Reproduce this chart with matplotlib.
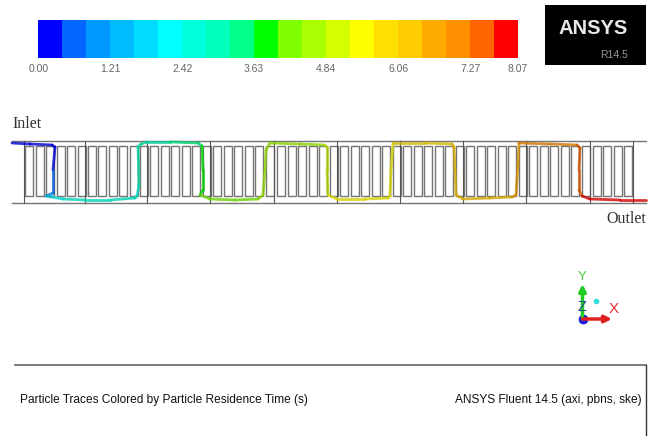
import matplotlib
matplotlib.use("Agg")
import matplotlib.pyplot as plt
import numpy as np
from matplotlib.collections import LineCollection
from matplotlib.colors import BoundaryNorm, ListedColormap, to_rgb

# colour bar
band_colors = ["#0000ff", "#0066ff", "#0099ff", "#00bbff", "#00ddff",
               "#00ffff", "#00ffdd", "#00ffbb", "#00ff88", "#00ff00",
               "#7fff00", "#aaff00", "#d4ff00", "#ffff00", "#ffe000",
               "#ffcc00", "#ffaa00", "#ff9000", "#ff6600", "#ff0000"]
tick_values = [0.00, 1.21, 2.42, 3.63, 4.84, 6.06, 7.27, 8.07]
tick_labels = ["0.00", "1.21", "2.42", "3.63", "4.84", "6.06", "7.27", "8.07"]
t_max = 8.07

# channel geometry, in picture pixels
section_x = [24, 85, 147, 210, 274, 337, 400, 463, 526, 590, 633]
baffle_x = [25, 35.5, 46, 56.5, 67, 77.5,
            87.5, 98, 108.5, 119, 129.5, 140,
            150, 160.5, 171, 181.5, 192, 202.5,
            213, 223.5, 234, 244.5, 255, 265.5,
            277, 287.5, 298, 308.5, 319, 329.5,
            340, 350.5, 361, 371.5, 382, 392.5,
            403, 413.5, 424, 434.5, 445, 455.5,
            466, 476.5, 487, 497.5, 508, 518.5,
            529, 539.5, 550, 560.5, 571, 581.5,
            592.5, 603, 613.5, 624]

# particle trace
trace_x = [12, 30, 52, 55, 53, 53, 46, 52, 63, 85, 110, 135, 137, 139, 138, 141, 147,
           170, 198, 202, 203, 203, 200, 210, 235, 258, 263, 265, 266, 270,
           300, 324, 327, 327, 328, 337, 365, 388, 390, 391, 393,
           425, 452, 454, 455, 456, 463, 490, 512, 516, 518, 519,
           550, 577, 580, 579, 579, 582, 590, 620, 646]
trace_y = [143, 144, 145, 147, 170, 193, 196, 197, 199, 200, 200, 198, 196, 185, 147, 144, 142,
           142, 143, 146, 170, 190, 195, 199, 200, 199, 195, 170, 150, 143,
           144, 145, 147, 170, 195, 199, 199, 198, 196, 170, 143,
           143, 144, 147, 170, 195, 199, 198, 197, 195, 165, 143,
           144, 145, 148, 170, 190, 196, 199, 200, 200]
trace_t = [0.1, 0.1, 0.2, 0.2, 0.5, 1.0, 1.9, 2.4, 2.6, 2.6, 2.7, 2.8, 2.8, 2.9, 3.0, 3.1, 3.2,
           3.4, 3.6, 3.7, 3.8, 4.0, 4.1, 4.2, 4.4, 4.5, 4.5, 4.6, 4.7, 4.7,
           4.8, 5.0, 5.1, 5.2, 5.3, 5.3, 5.4, 5.5, 5.5, 5.6, 5.7,
           5.9, 6.1, 6.1, 6.2, 6.3, 6.3, 6.4, 6.5, 6.5, 6.7, 6.9,
           7.1, 7.3, 7.4, 7.5, 7.6, 8.0, 8.05, 8.05, 8.05]

line_grey = "#757575"

fig = plt.figure(figsize=(6.54, 4.36), dpi=100)
ax = fig.add_axes([0, 0, 1, 1])
ax.set_xlim(0, 654)
ax.set_ylim(436, 0)
ax.axis("off")

# channel walls
ax.plot([12, 646], [141, 141], color=line_grey, lw=1)
ax.plot([12, 646], [203, 203], color=line_grey, lw=1)
for x in section_x:
    ax.plot([x, x], [141, 203], color="#555555", lw=0.8)
for x in baffle_x:
    ax.add_patch(plt.Rectangle((x, 146), 8, 50, fill=False, ec=line_grey, lw=1))

# trace coloured by residence time, darker than the bar as in the picture
cmap = ListedColormap(band_colors)
trace_cmap = ListedColormap([tuple(0.82 * c for c in to_rgb(b)) for b in band_colors])
norm = BoundaryNorm(np.linspace(0, t_max, len(band_colors) + 1), cmap.N)
pts = np.column_stack([trace_x, trace_y])
segs = np.stack([pts[:-1], pts[1:]], axis=1)
lc = LineCollection(segs, cmap=trace_cmap, norm=norm, linewidths=2, alpha=0.8, capstyle="round")
lc.set_array(np.array(trace_t[:-1]))
ax.add_collection(lc)

serif = "Liberation Serif"
sans = "Liberation Sans"
ax.text(12, 124, "Inlet", family=serif, fontsize=11.5, color="#333333", va="center")
ax.text(646, 219, "Outlet", family=serif, fontsize=11.5, color="#333333", va="center", ha="right")

# colour bar drawn on its own axes
cax = fig.add_axes([38.3 / 654, 1 - 58 / 436, 479.7 / 654, 38 / 436])
cax.pcolormesh(np.linspace(0, t_max, len(band_colors) + 1), [0, 1],
               (np.arange(len(band_colors)) + 0.5).reshape(1, -1) * t_max / len(band_colors),
               cmap=cmap, norm=norm)
cax.set_yticks([])
cax.set_xticks(tick_values)
cax.set_xticklabels(tick_labels, family=sans, fontsize=7.5, color="#666666")
cax.tick_params(axis="x", length=0, pad=4)
for s in cax.spines.values():
    s.set_visible(False)

# logo
ax.add_patch(plt.Rectangle((545, 5), 101, 60, fc="black", ec="none"))
ax.text(593, 28, "ANSYS", family=sans, weight="bold", fontsize=14.5,
        color="#e8e8e8", ha="center", va="center")
ax.text(628, 55, "R14.5", family=sans, fontsize=7.5, color="#9a9a9a",
        ha="right", va="center")

# axis triad
ax.annotate("", xy=(582.5, 284), xytext=(582.5, 319),
            arrowprops=dict(arrowstyle="-|>", color="#22cc22", lw=2.5, shrinkA=0, shrinkB=0))
ax.annotate("", xy=(612, 319), xytext=(582.5, 319),
            arrowprops=dict(arrowstyle="-|>", color="#e02020", lw=2.5, shrinkA=0, shrinkB=0))
ax.text(582.5, 277, "Y", family=sans, fontsize=9.5, color="#44cc44", ha="center", va="center")
ax.text(582.5, 307, "Z", family=sans, fontsize=10.5, color="#1a4a8a", ha="center", va="center")
ax.text(614, 309, "X", family=sans, fontsize=11, color="#e03030", ha="center", va="center")
ax.plot([582.5], [319], "o", color="#1a1ae0", ms=6)
ax.plot([596], [301], "o", color="#33dddd", ms=3)

# footer
ax.plot([15, 646], [365, 365], color="#666666", lw=1.2)
ax.plot([646, 646], [365, 436], color="#333333", lw=1)
ax.text(20, 400, "Particle Traces Colored by Particle Residence Time (s)", family=sans,
        fontsize=8.6, color="#111111", va="center")
ax.text(642, 400, "ANSYS Fluent 14.5 (axi, pbns, ske)", family=sans, fontsize=8.6,
        color="#111111", va="center", ha="right")

fig.savefig("out.png", dpi=100)
